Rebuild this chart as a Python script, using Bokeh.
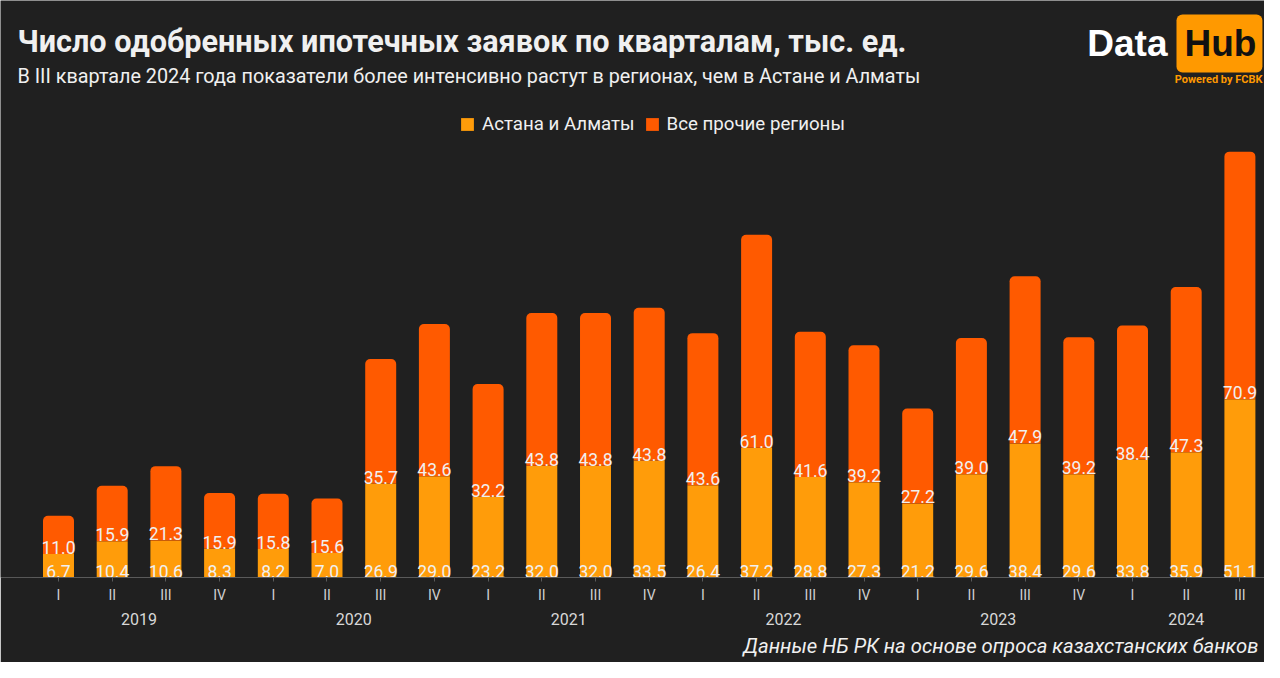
from bokeh.plotting import figure
from bokeh.models import (Range1d, ColumnDataSource, Label, Legend, LegendItem,
                          LinearAxis, FixedTicker, Title)
from bokeh.embed import file_html
from bokeh.resources import INLINE
from bokeh.core.properties import value

# ---- data ----
years = ["2019"] * 4 + ["2020"] * 4 + ["2021"] * 4 + ["2022"] * 4 + ["2023"] * 4 + ["2024"] * 3
quarters = ["I", "II", "III", "IV"] * 5 + ["I", "II", "III"]
capitals = [6.7, 10.4, 10.6, 8.3, 8.2, 7.0, 26.9, 29.0, 23.2, 32.0, 32.0, 33.5,
            26.4, 37.2, 28.8, 27.3, 21.2, 29.6, 38.4, 29.6, 33.8, 35.9, 51.1]
regions = [11.0, 15.9, 21.3, 15.9, 15.8, 15.6, 35.7, 43.6, 32.2, 43.8, 43.8, 43.8,
           43.6, 61.0, 41.6, 39.2, 27.2, 39.0, 47.9, 39.2, 38.4, 47.3, 70.9]
series_names = ["Астана и Алматы", "Все прочие регионы"]

title_text = "Число одобренных ипотечных заявок по кварталам, тыс. ед."
subtitle_text = "В III квартале 2024 года показатели более интенсивно растут в регионах, чем в Астане и Алматы"
source_text = "Данные НБ РК на основе опроса казахстанских банков"

# ---- style ----
W, H = 1264, 662
BG = "#202020"
C_CAP = "#ff9c0a"
C_REG = "#ff5a00"
TXT = "#f0f0f0"
FONT = "Roboto"

idx = list(range(len(quarters)))
totals = [a + b for a, b in zip(capitals, regions)]
src = ColumnDataSource(dict(
    x=idx, cap=capitals, reg=regions, tot=totals,
    cap_lbl=[f"{v:.1f}" for v in capitals],
    reg_lbl=[f"{v:.1f}" for v in regions],
))

# year group centres (from the data order)
year_order = []
for y in years:
    if y not in year_order:
        year_order.append(y)
year_centers = {}
for yv in year_order:
    pos = [i for i, y in enumerate(years) if y == yv]
    year_centers[sum(pos) / len(pos)] = yv

p = figure(width=W, height=H,
           x_range=Range1d(-1.08, 22.458), y_range=Range1d(0, 165.3),
           output_backend="svg", toolbar_location=None,
           min_border_left=0, min_border_right=0, min_border_top=0, min_border_bottom=85,
           background_fill_color=BG, border_fill_color=BG, outline_line_color=None)
p.title.visible = False
p.yaxis.visible = False
p.xgrid.visible = False
p.ygrid.visible = False

r1 = p.vbar(x="x", bottom=0, top="cap", width=0.577, source=src,
            fill_color=C_CAP, line_color=None)
r2 = p.vbar(x="x", bottom="cap", top="tot", width=0.577, source=src,
            fill_color=C_REG, line_color=None, border_radius=(5, 5, 0, 0))

p.text(x="x", y=0, text="cap_lbl", source=src, text_align="center", text_baseline="bottom",
       text_font=value(FONT), text_font_size="17.5px", text_color=TXT)
p.text(x="x", y="cap", text="reg_lbl", source=src, text_align="center", text_baseline="bottom",
       text_font=value(FONT), text_font_size="17.5px", text_color=TXT)

# quarter axis
ax = p.xaxis[0]
ax.ticker = FixedTicker(ticks=idx)
ax.major_label_overrides = {i: q for i, q in zip(idx, quarters)}
ax.bounds = (-0.5, len(idx) - 0.5)
ax.axis_line_color = "#5a5a5a"
ax.major_tick_line_color = "#5a5a5a"
ax.minor_tick_line_color = None
ax.major_tick_out = 4
ax.major_tick_in = 0
ax.major_label_standoff = 5
ax.major_label_text_font = FONT
ax.major_label_text_font_size = "14px"
ax.major_label_text_color = "#cfcfcf"

# year axis
ax2 = LinearAxis(ticker=FixedTicker(ticks=list(year_centers.keys())),
                 major_label_overrides=year_centers,
                 axis_line_color=None, major_tick_line_color=None, minor_tick_line_color=None,
                 major_tick_out=0, major_tick_in=0, major_label_standoff=7,
                 major_label_text_font=FONT, major_label_text_font_size="16px",
                 major_label_text_color="#d8d8d8")
p.add_layout(ax2, "below")

p.add_layout(Title(text=source_text, align="right", offset=6, standoff=9,
                   text_font=FONT, text_font_size="20.3px", text_font_style="italic",
                   text_color=TXT), "below")

legend = Legend(items=[LegendItem(label=series_names[0], renderers=[r1]),
                       LegendItem(label=series_names[1], renderers=[r2])],
                orientation="horizontal", location=(459, 577 - 135), margin=0, padding=0,
                spacing=9, label_standoff=7, glyph_width=16, glyph_height=16, label_height=16,
                background_fill_alpha=0, border_line_alpha=0,
                label_text_font=FONT, label_text_font_size="18.7px", label_text_color=TXT)
p.add_layout(legend)

p.add_layout(Label(x=17, y=41, x_units="canvas", y_units="canvas", text=title_text,
                   text_font=FONT, text_font_size="30.6px", text_font_style="bold",
                   text_color=TXT, text_baseline="alphabetic"))
p.add_layout(Label(x=17, y=76, x_units="canvas", y_units="canvas", text=subtitle_text,
                   text_font=FONT, text_font_size="19.8px",
                   text_color=TXT, text_baseline="alphabetic"))
p.add_layout(Label(x=1167, y=43, x_units="canvas", y_units="canvas", text="Data",
                   text_font="Liberation Sans", text_font_size="37px", text_font_style="bold",
                   text_color="#ffffff", text_align="right", text_baseline="alphabetic"))
p.add_layout(Label(x=1176, y=43, x_units="canvas", y_units="canvas", text="Hub",
                   text_font="Liberation Sans", text_font_size="37px", text_font_style="bold",
                   text_color="#111111", text_baseline="alphabetic",
                   background_fill_color="#ff9900", padding=(8, 6, 8, 9), border_radius=6))
p.add_layout(Label(x=1262, y=79, x_units="canvas", y_units="canvas", text="Powered by FCBK",
                   text_font=FONT, text_font_size="11px", text_font_style="bold",
                   text_color="#ff9900", text_align="right", text_baseline="alphabetic"))

open("out.html", "w").write(file_html(p, INLINE))
